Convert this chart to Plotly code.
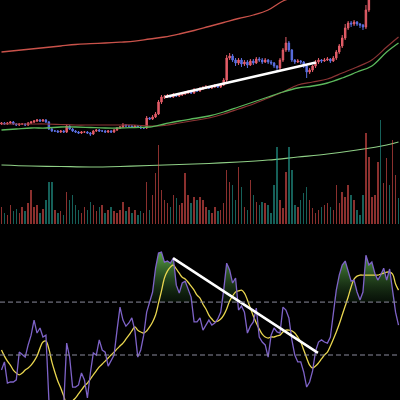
import plotly.graph_objects as go

# ---------------- data ----------------
bars = list(range(135))

opens = [16,17,16,17,18,16,15,16,16,15,17,18,19,20,19,20,
         18,11,9,9,8,9,8,14,11,9,8,7,8,8,7,6,9,10,9,9,8,9,8,
         10,12,13,15,14,14,13,14,13,12,
         12,22,21,23,26,38,43,43,44,43,45,44,45,46,47,48,47,50,49,51,52,53,52,53,54,53,55,
         60,82,84,80,77,80,76,78,75,79,77,81,80,78,80,78,77,74,72,80,90,97,90,80,78,79,78,74,68,70,
         74,78,80,79,80,81,79,82,88,94,102,112,117,116,118,116,115,113,
         130,150,158,162,170,166,174,180,177,184,190]
closes = [17,16,17,18,16,15,16,16,15,17,18,19,20,19,20,18,
          11,9,9,8,9,8,14,11,9,8,7,8,8,7,6,9,10,9,9,8,9,8,10,
          12,13,15,14,14,13,14,13,12,12,
          22,21,23,26,38,43,43,44,43,45,44,45,46,47,48,47,50,49,51,52,53,52,53,54,53,55,60,
          82,84,80,77,80,76,78,75,79,77,81,80,78,80,78,77,74,72,80,90,97,90,80,78,79,78,74,68,70,74,
          78,80,79,80,81,79,82,88,94,102,112,117,116,118,116,115,113,130,
          150,158,162,170,166,174,180,177,184,190,186]
highs = [18,18,18,19,19,17,17,17,17,18,19,20,21,21,21,21,
         19,12,10,10,10,10,16,15,12,10,9,9,9,9,8,10,11,11,10,10,10,10,11,
         13,14,17,16,15,15,15,15,14,13,
         24,23,25,28,40,45,45,46,45,47,46,47,48,49,50,49,52,51,53,54,55,54,55,56,55,57,62,
         85,87,86,82,82,82,80,80,81,81,83,83,82,82,81,80,78,75,82,92,103,99,91,81,81,80,79,75,72,75,
         80,82,81,82,83,82,84,90,96,105,116,119,119,120,119,117,116,135,
         153,161,165,173,172,177,183,182,187,193,192]
lows = [15,15,15,16,15,14,14,15,14,14,16,17,18,18,18,17,
        10,8,8,7,7,7,7,10,8,7,6,6,7,6,4,5,8,8,8,7,7,7,7,
        9,11,12,13,13,12,12,12,11,11,
        11,20,20,22,25,36,41,42,42,42,43,43,44,45,46,46,46,48,48,50,51,51,51,52,52,52,54,
        58,80,78,74,75,73,74,72,74,75,76,78,76,77,76,75,72,68,70,78,88,88,78,76,77,76,72,62,66,68,
        72,76,77,78,79,77,78,80,86,92,100,110,113,114,114,112,110,111,
        128,148,156,160,164,164,172,175,175,182,184]

volumes = [18,12,10,20,14,16,12,18,14,22,35,18,20,12,16,25,
           43,43,15,12,14,10,33,25,30,20,15,12,18,15,23,20,14,18,20,12,15,18,14,
           12,15,23,14,18,12,15,10,14,12,
           43,15,30,52,80,35,25,22,18,30,27,20,22,52,30,22,28,25,28,25,18,15,12,18,14,15,22,
           55,43,40,25,58,38,18,15,45,30,23,20,23,22,20,12,40,78,25,17,53,78,55,20,18,25,32,38,25,17,
           12,15,18,20,22,18,15,40,22,33,28,40,30,25,15,10,30,92,
           68,28,30,63,105,42,67,40,85,50,27]

# moving averages on price, sampled at bar indices
ma_idx = [0,5,10,15,20,25,30,35,40,45,50,55,60,65,70,75,80,85,90,95,100,105,110,115,120,125,130,134]
ma_long_red = [88,89.5,91,92.5,94,95.5,96.3,97,97.8,98.8,101,103,106,109.5,113.5,117.5,121.5,125,
               130,139,144,149,155,161,167,173,180,185]
ma_green = [10,11,12,12,13,13,12.5,12,12,12.5,13,16,19,21.5,24,28,33,38,43,48,52,54,57,62,68,74,88,97]
ma_dark_red = [16,16,16,16,15.5,15,15,15,15,15,14,14.5,17,19.5,22,26,31,36,42,48,55,58,61,67,73,80,93,103]

ma_low_idx = [0,10,20,30,40,50,60,70,80,90,100,110,120,130,134]
ma_low_green = [-25,-26,-26.5,-27,-26.5,-25.5,-24.5,-23.5,-22,-20,-17,-14,-10,-5,-2]

rsi = [44.3,47.4,39.4,39.8,39.8,40.6,51.1,50.0,49.2,53.8,57.5,63.2,58.3,60.2,56.8,57.5,
       33.0,29.2,27.4,26.2,27.4,31.1,54.5,49.2,37.9,37.9,38.7,43.2,40.6,33.8,43.2,50.8,50.0,55.7,
       51.9,51.1,45.8,48.1,50.0,59.4,68.1,63.2,60.9,62.1,64.0,59.4,49.2,51.9,57.5,66.2,69.6,73.8,
       82.8,88.5,88.9,85.1,85.5,84.7,86.6,76.4,73.4,77.2,77.9,74.5,71.9,62.5,62.5,64.0,59.4,61.3,
       63.2,61.3,62.1,63.6,66.2,74.5,84.7,82.1,77.2,79.1,67.0,68.5,66.2,58.3,60.9,62.5,67.7,56.8,
       54.9,53.8,49.2,57.5,60.2,58.7,58.3,68.1,67.0,64.0,55.7,50.0,47.4,47.4,43.6,37.9,39.8,44.0,
       51.5,54.9,55.7,54.9,54.5,56.8,66.2,74.5,80.2,84.0,85.5,81.7,77.9,78.3,73.8,70.8,73.8,87.7,
       84.0,85.1,80.9,78.3,80.2,82.8,78.3,82.5,74.5,66.2,61.3]
rsi_ma = [51.9,49.6,47.7,46.2,44.3,43.2,42.5,43.2,44.3,45.1,46.2,47.7,49.6,52.6,54.9,55.3,
          52.3,47.4,43.6,40.2,37.5,34.5,31.5,30.8,32.6,33.8,35.3,36.8,38.3,39.4,40.9,42.5,44.0,45.5,
          46.6,47.7,48.9,50.0,51.1,52.3,53.4,54.5,56.0,57.5,59.1,60.6,59.4,58.7,58.3,59.1,60.6,62.5,
          65.1,69.6,74.2,79.1,81.7,83.2,84.0,82.5,80.9,79.4,78.7,77.5,76.0,74.5,72.6,71.5,69.2,67.4,
          65.1,63.6,62.5,62.8,63.6,65.1,67.4,70.4,72.3,73.8,74.2,74.5,73.4,70.8,67.7,64.7,62.1,59.8,
          57.9,56.8,56.4,56.8,56.8,57.2,57.5,58.7,59.4,59.4,59.1,58.3,56.8,54.9,51.9,48.9,46.2,45.1,
          45.8,47.0,48.5,50.0,51.1,53.4,56.0,58.7,61.7,65.1,68.5,71.9,75.7,78.7,79.8,80.2,80.2,80.2,
          80.2,80.2,80.2,80.2,80.6,80.9,81.3,81.3,80.6,76.8,74.5]

rsi_levels = [70, 50]
rsi_floor = 33

trend_price_idx = [55.2, 106.1]
trend_price_val = [43, 77.5]
trend_rsi_idx = [57.9, 106.8]
trend_rsi_val = [86.6, 50.8]

# ---------------- styles ----------------
UP = "#e45d68"
DOWN = "#5b70e2"
VOL_UP = "rgba(239,83,80,0.58)"
VOL_DOWN = "rgba(38,166,154,0.58)"

fig = go.Figure()

vol_colors = [VOL_UP if c >= o else VOL_DOWN for o, c in zip(opens, closes)]
fig.add_trace(go.Bar(x=bars, y=volumes, marker_color=vol_colors, marker_line_width=0,
                     width=0.5, yaxis="y2", showlegend=False))

fig.add_trace(go.Scatter(x=ma_idx, y=ma_long_red, mode="lines",
                         line=dict(color="#c9524a", width=1.3, shape="spline"), yaxis="y"))
fig.add_trace(go.Scatter(x=ma_idx, y=ma_dark_red, mode="lines",
                         line=dict(color="#8a3434", width=1.2, shape="spline"), yaxis="y"))
fig.add_trace(go.Scatter(x=ma_idx, y=ma_green, mode="lines",
                         line=dict(color="#5cb85c", width=1.3, shape="spline"), yaxis="y"))
fig.add_trace(go.Scatter(x=ma_low_idx, y=ma_low_green, mode="lines",
                         line=dict(color="#8fcf86", width=1.2, shape="spline"), yaxis="y"))

fig.add_trace(go.Candlestick(x=bars, open=opens, high=highs, low=lows, close=closes,
                             increasing=dict(line=dict(color=UP, width=1), fillcolor=UP),
                             decreasing=dict(line=dict(color=DOWN, width=1), fillcolor=DOWN),
                             whiskerwidth=0, yaxis="y", showlegend=False))

fig.add_trace(go.Scatter(x=trend_price_idx, y=trend_price_val, mode="lines",
                         line=dict(color="white", width=2.5), yaxis="y"))

# RSI pane
rsi_upper = [max(v, rsi_levels[0]) for v in rsi]
fig.add_trace(go.Scatter(x=bars, y=[rsi_levels[0]] * len(bars), mode="lines",
                         line=dict(width=0, color="rgba(0,0,0,0)"), yaxis="y3", hoverinfo="skip"))
fig.add_trace(go.Scatter(x=bars, y=rsi_upper, mode="lines", line=dict(width=0, color="rgba(0,0,0,0)"),
                         fill="tonexty",
                         fillgradient=dict(type="vertical", start=70, stop=88,
                                           colorscale=[[0, "rgba(25,55,25,0.3)"],
                                                       [1, "rgba(90,165,70,0.95)"]]),
                         yaxis="y3", hoverinfo="skip"))
fig.add_trace(go.Scatter(x=bars, y=rsi_ma, mode="lines",
                         line=dict(color="#e9d64f", width=1.3, shape="spline"), yaxis="y3"))
fig.add_trace(go.Scatter(x=bars, y=rsi, mode="lines",
                         line=dict(color="#7e63c8", width=1.3), yaxis="y3"))
fig.add_trace(go.Scatter(x=trend_rsi_idx, y=trend_rsi_val, mode="lines",
                         line=dict(color="white", width=2.5), yaxis="y3"))

shapes = [dict(type="rect", xref="paper", x0=0, x1=1, yref="y3", y0=rsi_floor, y1=rsi_levels[0],
               fillcolor="#140f24", line=dict(width=0), layer="below")]
for lv in rsi_levels:
    shapes.append(dict(type="line", xref="paper", x0=0, x1=1, yref="y3", y0=lv, y1=lv,
                       line=dict(color="#8a8a9c", width=1, dash="5px,3px"), layer="above"))

hide = dict(showgrid=False, zeroline=False, showticklabels=False, ticks="", showline=False)
fig.update_layout(
    width=400, height=400, margin=dict(l=0, r=0, t=0, b=0),
    paper_bgcolor="black", plot_bgcolor="black", showlegend=False,
    xaxis=dict(range=[-0.5, 134.5], rangeslider=dict(visible=False), **hide),
    yaxis=dict(domain=[0.4375, 1], range=[-85, 140], **hide),
    yaxis2=dict(overlaying="y", range=[0, 225], **hide),
    yaxis3=dict(domain=[0, 0.44], range=[33, 99.5], **hide),
    shapes=shapes, bargap=0,
)

fig.write_html("out.html", config={"displayModeBar": False},
               post_script="document.body.style.margin='0';document.body.style.background='black';"
                           "document.body.style.overflow='hidden';")
